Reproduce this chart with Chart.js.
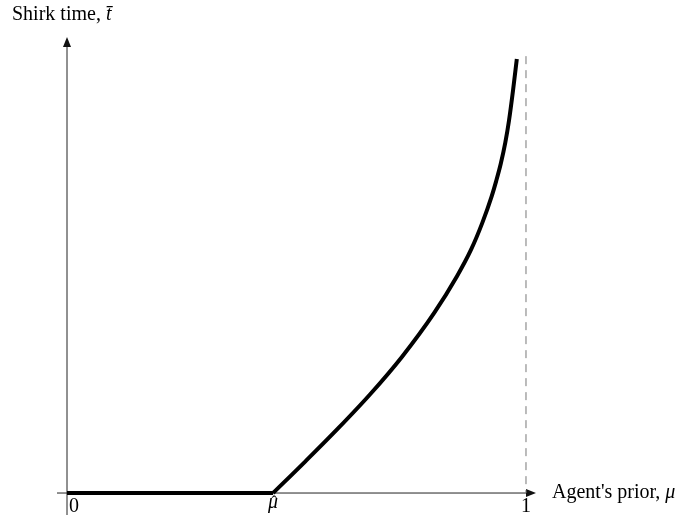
<!DOCTYPE html>
<html>
<head>
<meta charset="utf-8">
<script src="https://cdn.jsdelivr.net/npm/chart.js@4.4.1/dist/chart.umd.min.js"></script>
<style>
  body { margin: 0; background: #fff; }
  canvas { display: block; }
</style>
</head>
<body>
<canvas id="grafica" width="695" height="520"></canvas>
<script>
// Datos
var muHat = 0.449;
var flatX = [0, 0.449];
var flatY = [0, 0];
var curveX = [0.449, 0.52, 0.59, 0.66, 0.73, 0.80, 0.85, 0.88, 0.905, 0.925, 0.935, 0.945, 0.955, 0.963, 0.972, 0.980];
var curveY = [0, 0.070, 0.141, 0.216, 0.299, 0.395, 0.476, 0.533, 0.593, 0.650, 0.684, 0.722, 0.769, 0.817, 0.885, 0.952];
var xTickValues = [0, muHat, 1];
var xTickLabels = ['0', 'μ', '1'];
var xTitle = "Agent's prior, ";
var yTitle = 'Shirk time, ';
var asymptoteX = 1;

var serif = "'Liberation Serif', 'DejaVu Serif', serif";

function toPoints(xs, ys) {
    return xs.map(function(x, i) { return { x: x, y: ys[i] }; });
}

function arrowHead(ctx, x, y, dir) {
    ctx.beginPath();
    if (dir === 'right') {
        ctx.moveTo(x, y);
        ctx.lineTo(x - 10, y - 4);
        ctx.lineTo(x - 10, y + 4);
    } else {
        ctx.moveTo(x, y);
        ctx.lineTo(x - 4, y + 10);
        ctx.lineTo(x + 4, y + 10);
    }
    ctx.closePath();
    ctx.fill();
}

// ejes con flechas, linea punteada y etiquetas
var axesPlugin = {
    id: 'ejes',
    beforeDatasetsDraw: function(chart) {
        var ctx = chart.ctx;
        var xs = chart.scales.x, ys = chart.scales.y;
        var x0 = xs.getPixelForValue(0), y0 = ys.getPixelForValue(0);
        ctx.save();
        ctx.strokeStyle = '#222';
        ctx.fillStyle = '#111';
        ctx.lineWidth = 1;
        // eje x
        ctx.beginPath();
        ctx.moveTo(xs.left, y0);
        ctx.lineTo(xs.right - 4, y0);
        ctx.stroke();
        arrowHead(ctx, xs.right, y0, 'right');
        // eje y
        ctx.beginPath();
        ctx.moveTo(x0, ys.bottom);
        ctx.lineTo(x0, ys.top + 4);
        ctx.stroke();
        arrowHead(ctx, x0, ys.top, 'up');
        // asintota
        var xa = xs.getPixelForValue(asymptoteX);
        ctx.strokeStyle = '#777';
        ctx.setLineDash([8, 6]);
        ctx.beginPath();
        ctx.moveTo(xa, ys.getPixelForValue(0.958));
        ctx.lineTo(xa, y0);
        ctx.stroke();
        ctx.setLineDash([]);
        ctx.restore();
    },
    afterDraw: function(chart) {
        var ctx = chart.ctx;
        var xs = chart.scales.x, ys = chart.scales.y;
        var y0 = ys.getPixelForValue(0);
        ctx.save();
        ctx.fillStyle = '#000';
        ctx.textBaseline = 'alphabetic';
        // etiquetas del eje x
        ctx.font = '20px ' + serif;
        ctx.textAlign = 'left';
        ctx.fillText(xTickLabels[0], xs.getPixelForValue(xTickValues[0]) + 2, y0 + 19);
        ctx.textAlign = 'center';
        var xm = xs.getPixelForValue(xTickValues[1]);
        ctx.font = 'italic 20px ' + serif;
        ctx.fillText(xTickLabels[1], xm, y0 + 15);
        ctx.font = '16px ' + serif;
        ctx.fillText('ˆ', xm + 1, y0 + 14);
        ctx.font = '20px ' + serif;
        ctx.fillText(xTickLabels[2], xs.getPixelForValue(xTickValues[2]), y0 + 19);
        // titulo eje x
        ctx.textAlign = 'left';
        var tx = xs.right + 16;
        ctx.fillText(xTitle, tx, y0 + 5);
        var w = ctx.measureText(xTitle).width;
        ctx.font = 'italic 20px ' + serif;
        ctx.fillText('μ', tx + w, y0 + 5);
        // titulo eje y
        ctx.font = '20px ' + serif;
        ctx.fillText(yTitle, 12, 20);
        w = ctx.measureText(yTitle).width;
        ctx.font = 'italic 20px ' + serif;
        ctx.fillText('t̄', 12 + w, 20);
        ctx.restore();
    }
};

var ctx = document.getElementById('grafica').getContext('2d');
var chart = new Chart(ctx, {
    type: 'line',
    data: {
        datasets: [{
            data: toPoints(flatX, flatY),
            borderColor: '#000',
            borderWidth: 4,
            pointRadius: 0,
            tension: 0
        }, {
            data: toPoints(curveX, curveY),
            borderColor: '#000',
            borderWidth: 4,
            pointRadius: 0,
            cubicInterpolationMode: 'monotone'
        }]
    },
    options: {
        responsive: false,
        animation: false,
        layout: { padding: { left: 57, right: 159, top: 37, bottom: 5 } },
        plugins: {
            legend: { display: false },
            tooltip: { enabled: false }
        },
        scales: {
            x: { type: 'linear', min: -0.0218, max: 1.0218, display: false },
            y: { min: -0.0482, max: 1, display: false }
        }
    },
    plugins: [axesPlugin]
});
</script>
</body>
</html>
